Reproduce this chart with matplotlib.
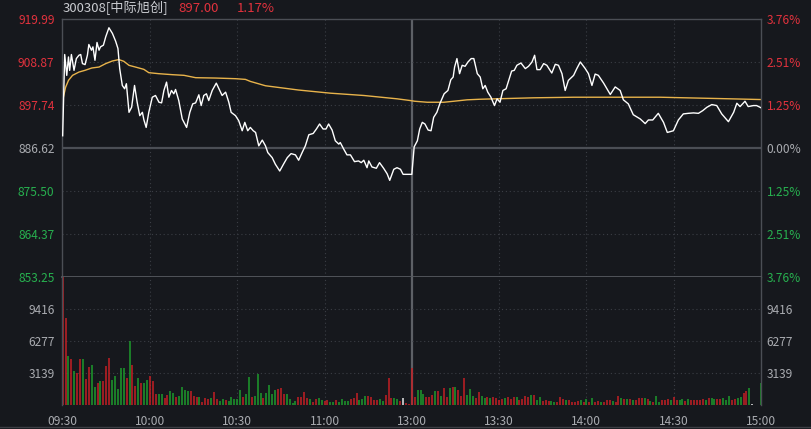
import matplotlib
matplotlib.use("Agg")
import matplotlib.pyplot as plt
from matplotlib.lines import Line2D
import numpy as np

plt.rcParams['font.family'] = ['Noto Sans CJK SC', 'DejaVu Sans']

# header
code_name = '300308[中际旭创]'
last_price = '897.00'
last_pct = '1.17%'

prev_close = 886.62
price_ticks = [919.99, 908.87, 897.74, 886.62, 875.50, 864.37, 853.25]
pct_labels = ['3.76%', '2.51%', '1.25%', '0.00%', '1.25%', '2.51%', '3.76%']
vol_ticks = [3139, 6277, 9416]
vol_top = 12555
time_ticks = [0, 30, 60, 90, 120, 150, 180, 210, 240]
time_labels = ['09:30', '10:00', '10:30', '11:00', '13:00', '13:30', '14:00', '14:30', '15:00']

# minutes since 09:30 (13:00 = 120)
t_price = [0, 0.7, 1.4, 2.0, 2.4, 3.0, 3.9, 4.7, 5.6, 6.2, 6.8, 7.7, 8.5, 9.0, 9.9, 10.4,
           11.1, 11.8, 12.5, 13.0, 14.0, 14.8, 15.9, 17.1, 18.2, 19.0, 19.6, 20.5, 21.3,
           21.9, 22.8, 23.7, 24.7, 25.6, 26.5, 27.4, 27.9, 28.7, 29.6, 30.8, 31.9, 33.1,
           34.0, 34.8, 35.7, 36.5, 37.4, 38.2, 38.8, 39.9, 41.1, 42.6, 43.7, 44.7, 45.7,
           46.8, 47.6, 48.5, 49.4, 50.2, 51.4, 52.8, 53.7, 54.8, 56.0, 57.1, 57.9, 59.4,
           60.5, 61.7, 62.6, 63.6, 64.5, 65.5, 66.3, 67.4, 68.6, 69.7, 70.5, 72.0, 73.1,
           74.6, 76.0, 77.2, 78.5, 80.0, 81.1, 82.3, 83.4, 84.6, 86.1, 87.2, 88.3, 89.5,
           90.5, 91.4, 92.6, 93.7, 94.9, 95.4, 96.6, 97.7, 98.9, 100.3, 101.7, 102.6,
           103.5, 104.6, 105.2, 106.3, 107.8, 108.9, 110.3, 111.5, 112.4, 113.8, 114.9,
           116.1, 117.0, 120.0, 120.8, 121.9, 122.7, 123.6, 124.5, 125.6, 126.6, 127.5,
           128.6, 129.6, 131.1, 132.4, 133.4, 134.2, 134.7, 135.5, 136.4, 137.3, 138.3,
           139.3, 140.4, 141.3, 142.5, 143.5, 144.4, 145.2, 146.1, 147.2, 148.4, 149.3,
           150.3, 151.3, 152.4, 153.5, 154.3, 155.2, 156.1, 157.5, 159.0, 160.1, 161.3,
           162.2, 163.0, 164.1, 165.3, 166.4, 168.1, 169.3, 170.4, 171.6, 172.7, 173.8,
           175.6, 176.7, 177.9, 179.6, 180.7, 181.9, 183.0, 184.1, 185.9, 188.2, 189.9,
           191.6, 192.7, 194.4, 196.1, 198.5, 200.2, 201.3, 202.8, 204.7, 206.5, 207.8,
           209.9, 211.6, 213.3, 215.0, 216.8, 218.5, 220.0, 221.4, 223.1, 224.8, 226.5,
           228.8, 230.6, 231.7, 232.8, 234.5, 235.6, 237.4, 238.5, 240.0]
price = [889.75, 910.79, 905.39, 910.16, 906.69, 910.79, 906.69, 909.74, 910.60, 910.79,
         908.44, 908.18, 910.60, 913.39, 911.91, 912.77, 909.30, 913.92, 911.91, 912.77,
         913.21, 915.38, 917.72, 916.26, 914.25, 912.35, 907.14, 902.78, 901.92, 903.23,
         895.82, 897.13, 902.78, 898.43, 894.96, 895.82, 893.92, 891.91, 895.82, 899.73,
         900.18, 898.43, 898.27, 901.48, 903.64, 899.73, 901.48, 900.62, 901.74, 898.87,
         894.10, 891.91, 895.82, 898.01, 898.27, 900.36, 897.57, 900.18, 900.62, 898.87,
         901.48, 903.38, 901.92, 900.18, 901.04, 898.43, 895.82, 894.96, 893.66, 891.05,
         893.22, 891.05, 891.91, 891.05, 890.61, 887.14, 888.63, 887.14, 885.40, 884.09,
         882.37, 880.62, 882.53, 884.09, 885.13, 884.80, 883.41, 885.40, 887.14, 890.01,
         890.35, 891.50, 892.80, 891.50, 891.50, 892.80, 891.23, 888.45, 887.59, 888.00,
         886.28, 884.80, 884.80, 883.05, 883.23, 882.79, 883.41, 881.48, 883.23, 881.67,
         881.33, 882.79, 881.33, 879.92, 878.20, 881.07, 881.48, 881.07, 879.76, 879.76,
         886.88, 888.45, 891.50, 893.22, 892.80, 891.23, 891.05, 894.52, 895.82, 898.01,
         900.62, 901.48, 904.27, 904.95, 907.55, 909.74, 905.83, 908.00, 907.74, 908.86,
         909.74, 909.74, 905.83, 904.95, 901.92, 902.78, 901.04, 899.73, 897.57, 899.32,
         898.43, 901.48, 901.92, 904.53, 906.51, 906.69, 908.00, 908.60, 907.14, 907.74,
         908.86, 910.60, 906.88, 906.88, 908.44, 908.00, 905.99, 908.26, 908.00, 905.83,
         901.48, 904.09, 905.39, 907.14, 908.86, 907.14, 905.83, 902.78, 905.73, 905.40,
         903.40, 900.44, 902.40, 901.48, 899.06, 898.01, 895.20, 894.10, 892.90, 893.84,
         893.84, 895.56, 893.22, 890.61, 891.05, 893.84, 895.41, 895.56, 895.67, 895.56,
         896.27, 897.13, 897.83, 897.57, 895.41, 893.40, 895.82, 898.17, 897.31, 898.69,
         897.31, 897.57, 897.57, 897.00]

t_avg = [0, 1, 2, 3.4, 5.6, 7.7, 10, 12.5, 14.8, 17.1, 19.3, 21, 22.8, 25, 27.9, 29.6, 33,
         37.7, 41.7, 45.7, 52.5, 59.4, 62.8, 64.5, 69.7, 81, 92, 103.5, 114.9, 119.5, 121,
         125.3, 131, 134.4, 139, 143.5, 161.8, 175.6, 205.3, 229.4, 240]
avg_price = [898.9, 902.3, 904.1, 905.4, 906.25, 906.7, 907.3, 907.55, 908.44, 909.12,
             909.48, 909.04, 907.99, 907.55, 906.95, 906.09, 905.83, 905.57, 905.4, 904.79,
             904.7, 904.53, 904.35, 903.83, 902.7, 901.6, 900.78, 900.18, 899.32, 898.87,
             898.69, 898.43, 898.43, 898.69, 899.06, 899.21, 899.58, 899.73, 899.73, 899.32,
             899.13]

# per-minute volume (241 bars) and colour r=up g=down w=flat
volume = [12555, 8530, 4750, 4500, 3280, 3130, 4500, 4500, 2530, 3710, 3940, 1800, 2200,
          2390, 2300, 3840, 4600, 2400, 2790, 1570, 3610, 3610, 2620, 6230, 3940, 1870,
          2620, 2200, 2200, 2400, 2850, 2390, 1080, 1080, 1080, 660, 985, 1410, 1210, 760,
          890, 1740, 1480, 1410, 1410, 890, 760, 760, 330, 660, 560, 660, 1310, 560, 430,
          560, 490, 430, 825, 560, 560, 1480, 825, 1080, 2720, 760, 890, 3050, 1210, 660,
          1210, 1970, 1080, 1480, 1540, 1640, 1080, 1080, 560, 230, 430, 825,
          820, 1250, 660, 560, 330, 590, 720, 490, 390, 490, 330, 330, 490, 330, 560, 390,
          390, 560, 660, 1150, 490, 560, 890, 890, 820, 490, 490, 560, 390, 985, 2690, 720,
          720, 590, 390, 720, 230, 100,
          3610, 820, 1480, 1480, 1050, 820, 820, 985, 1410, 1410, 900, 1710, 820,
          1710, 1800, 1800, 1480, 920, 2690, 985, 1570, 920, 660, 1310, 890, 720, 750, 660,
          750, 660, 490, 560, 660, 820, 560, 820, 750, 490, 590, 890, 750, 985, 985, 490,
          750, 430, 490, 390, 390, 330, 260, 750, 560, 490, 490, 260, 330, 390, 490, 330,
          590, 330, 720, 260, 390, 260,
          260, 490, 490, 390, 330, 920, 660, 590, 590, 590, 490, 490, 660, 660, 720, 560,
          390, 260, 920, 330, 490, 490, 560, 490, 750, 490, 490, 560, 390, 590, 490, 490,
          490, 490, 560, 490, 720, 660, 560, 590, 560, 660, 490, 920, 490, 560, 660, 820,
          1210, 1380, 1640, 100, 0, 0, 2130]
vol_dir = ('rrgrgrrgrrggrgrrrgggggrgrrgrggrrrggrrggrggggrrrgrrrgrrggrgggggrggrgggrggggrrrgggg'
           'rrrrgrrggrrggrggggrrrgggrrrrggrrrggrw'
           'rrrrgggrrrgrg'
           'rrgrgrrrgggrrggrgrrrrgrrrgrrrrgrggrrrggrrrgrrrrgrgrgr'
           'rgrrrgrrgrgrgrrrgrgrggrrrgrrggrgrrrrrgrggrrgggrrggrrgwwwg')

bg = '#16181d'
grid_c = '#3b3e45'
solid_c = '#4b4e55'
red_txt = '#e2323d'
green_txt = '#27b04f'
gray_txt = '#a9abb0'
bar_colors = {'r': '#c41f24', 'g': '#1d9b2c', 'w': '#e8e8e8'}

W, H = 811, 429
fig = plt.figure(figsize=(W / 100, H / 100), dpi=100, facecolor=bg)
left, right = 61.5 / W, 761 / W
ax = fig.add_axes([left, 1 - 276.7 / H, right - left, (276.7 - 19) / H], facecolor=bg)
axv = fig.add_axes([left, 1 - 405 / H, right - left, (405 - 276.7) / H], facecolor=bg)

for a in (ax, axv):
    a.set_xlim(-0.4, 240)
    for s in a.spines.values():
        s.set_color(solid_c)
        s.set_linewidth(1.0)
    for t in (30, 60, 90, 150, 180, 210):
        a.axvline(t, color=grid_c, lw=0.8, ls=(0, (1, 2.5)), zorder=0)
    a.axvline(120, color='#5d6066', lw=1.6, zorder=0)
axv.spines['top'].set_visible(False)
axv.spines['bottom'].set_visible(False)

# price panel
ax.set_ylim(price_ticks[-1], price_ticks[0])
for p in price_ticks[1:-1]:
    if p == prev_close:
        ax.axhline(p, color=solid_c, lw=1.6, zorder=0)
    else:
        ax.axhline(p, color=grid_c, lw=0.8, ls=(0, (1, 2.5)), zorder=0)
ax.spines['bottom'].set_color('#55585e')
ax.spines['bottom'].set_linewidth(1.3)
ax.plot(t_price, price, color='white', lw=1.0, zorder=3)
ax.plot(t_avg, avg_price, color='#e8b34b', lw=1.0, zorder=2)
ax.set_xticks([])
ax.set_yticks(price_ticks)
ax.set_yticklabels([f'{p:.2f}' for p in price_ticks], fontsize=8.6)
ax.tick_params(axis='y', length=0, pad=5)
ax2 = ax.twinx()
ax2.set_ylim(ax.get_ylim())
ax2.set_yticks(price_ticks)
ax2.set_yticklabels(pct_labels, fontsize=8.6)
ax2.tick_params(axis='y', length=0, pad=4)
for s in ax2.spines.values():
    s.set_visible(False)
for lab_l, lab_r, p in zip(ax.get_yticklabels(), ax2.get_yticklabels(), price_ticks):
    c = red_txt if p > prev_close else (gray_txt if p == prev_close else green_txt)
    lab_l.set_color(c)
    lab_r.set_color(c)

# volume panel
mins = np.arange(len(volume))
axv.set_ylim(0, vol_top)
for v in vol_ticks:
    axv.axhline(v, color=grid_c, lw=0.8, ls=(0, (1, 2.5)), zorder=0)
axv.vlines(mins, 0, volume, colors=[bar_colors[c] for c in vol_dir], lw=1.1, zorder=2)
axv.set_yticks(vol_ticks)
axv.set_yticklabels([str(v) for v in vol_ticks], fontsize=8.6, color=gray_txt)
axv.tick_params(axis='y', length=0, pad=5, colors=gray_txt)
axv2 = axv.twinx()
axv2.set_ylim(axv.get_ylim())
axv2.set_yticks(vol_ticks)
axv2.set_yticklabels([str(v) for v in vol_ticks], fontsize=8.6)
axv2.tick_params(axis='y', length=0, pad=4, colors=gray_txt)
for s in axv2.spines.values():
    s.set_visible(False)
axv.set_xticks(time_ticks)
axv.set_xticklabels(time_labels, fontsize=8.6)
axv.tick_params(axis='x', length=0, pad=7, colors=gray_txt)

# thin separator along the bottom edge
fig.add_artist(Line2D([0, 1], [1 - 426.5 / H, 1 - 426.5 / H], transform=fig.transFigure,
                      color='#3c3e44', lw=1.0))

# header
fig.text(63 / W, 1 - 8 / H, code_name, color='#c9cbd0', fontsize=9.5, va='center')
fig.text(178 / W, 1 - 8 / H, last_price, color=red_txt, fontsize=9.5, va='center')
fig.text(237 / W, 1 - 8 / H, last_pct, color=red_txt, fontsize=9.5, va='center')

fig.savefig('out.png', dpi=100, facecolor=bg)
